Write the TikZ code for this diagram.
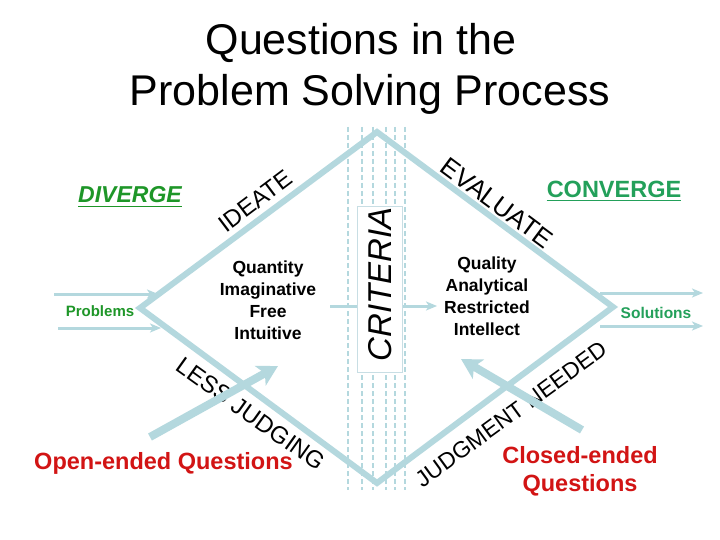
\documentclass[tikz,border=0pt]{standalone}
\usepackage{fontspec}
\setmainfont{Liberation Sans}
\usetikzlibrary{arrows.meta}
\definecolor{lb}{RGB}{180,216,222}
\definecolor{dg}{RGB}{30,150,40}
\definecolor{cg}{RGB}{35,160,90}
\definecolor{rd}{RGB}{210,20,20}
\definecolor{bx}{RGB}{200,222,228}
\newcommand{\myfs}[2]{\fontsize{#1}{#2}\selectfont}
\tikzset{
  diam/.style={draw=lb, line width=6pt, line join=miter},
  dash line/.style={draw=lb, line width=1.3pt, dash pattern=on 5pt off 3pt},
  thin arrow/.style={draw=lb, line width=3pt, -{Stealth[length=11pt,width=9pt,inset=3pt]}},
  big arrow/.style={draw=lb, line width=8pt, -{Stealth[length=20pt,width=22pt,inset=5pt]}},
  word/.style={inner sep=0pt, text=black},
  blk/.style={inner sep=0pt, align=center, text=black, font=\bfseries\myfs{17.5}{22}},
}
\begin{document}
\begin{tikzpicture}[x=1pt,y=-1pt]
\useasboundingbox[fill=white] (0,0) rectangle (720,540);

% title
\node[word, anchor=base, font=\myfs{43}{50}] (t1) at (361,55) {Questions in the};
\node[word, anchor=base, font=\myfs{43}{50}] (t2) at (370,106) {Problem Solving Process};

% criteria dashed band
\foreach \x [count=\i] in {348,362,373,386,395,405}{
  \coordinate (dt\i) at (\x,127);
  \coordinate (db\i) at (\x,490);
  \draw[dash line] (dt\i) -- (db\i);
}

% diamond
\coordinate (L) at (140,308);
\coordinate (T) at (377,132);
\coordinate (R) at (613,307);
\coordinate (B) at (377,483);
\draw[diam] (L) -- (T) -- (R) -- (B) -- cycle;

% centre arrow through criteria
\coordinate (ca) at (330,306);
\coordinate (cb) at (437,306);
\draw[thin arrow] (ca) -- (cb);

% criteria box
\node[draw=bx, fill=white, line width=0.8pt, minimum width=45pt, minimum height=166pt, inner sep=0pt] (crit) at (379.5,289) {};
\node[word, rotate=90, font=\itshape\myfs{33}{33}] (critt) at (380,284) {CRITERIA};

% problems arrows
\coordinate (p1a) at (54,294);  \coordinate (p1b) at (158,294);
\coordinate (p2a) at (58,328);  \coordinate (p2b) at (161,328);
\draw[thin arrow] (p1a) -- (p1b);
\draw[thin arrow] (p2a) -- (p2b);
\node[word, text=dg, font=\bfseries\myfs{15}{15}] (prob) at (100,311) {Problems};

% solutions arrows
\coordinate (s1a) at (600,293);  \coordinate (s1b) at (703,293);
\coordinate (s2a) at (600,326);  \coordinate (s2b) at (703,326);
\draw[thin arrow] (s1a) -- (s1b);
\draw[thin arrow] (s2a) -- (s2b);
\node[word, text=cg, font=\bfseries\myfs{15.5}{15.5}] (sol) at (656,313) {Solutions};

% diverge / converge
\node[word, anchor=base, text=dg, font=\bfseries\itshape\myfs{23}{23}] (div) at (130,203) {DIVERGE};
\draw[dg, line width=1.6pt] ([yshift=-3.5pt]div.base west) -- ([yshift=-3.5pt]div.base east);
\node[word, anchor=base, text=cg, font=\bfseries\myfs{23.5}{23.5}] (conv) at (614,197) {CONVERGE};
\draw[cg, line width=1.6pt] ([yshift=-3.5pt]conv.base west) -- ([yshift=-3.5pt]conv.base east);

% inner blocks
\node[blk] (qi) at (268,300) {Quantity\\Imaginative\\Free\\Intuitive};
\node[blk] (qa) at (487,296) {Quality\\Analytical\\Restricted\\Intellect};

% slanted words
\node[word, rotate=37, font=\myfs{24}{24}] (ideate) at (255,201) {IDEATE};
\node[word, rotate=-36.6, font=\myfs{26}{26}] (eval) at (497,203) {EVALUATE};
\node[word, rotate=-35.5, font=\myfs{24}{24}] (less) at (251,414) {LESS JUDGING};
\node[word, rotate=36, font=\myfs{23}{23}] (need) at (511,414) {JUDGMENT NEEDED};

% question labels
\node[word, text=rd, font=\bfseries\myfs{23.5}{23.5}] (open) at (163.5,463) {Open-ended Questions};
\node[word, text=rd, align=center, font=\bfseries\myfs{23.5}{28}] (closed) at (580,471) {Closed-ended\\Questions};

% big arrows
\coordinate (oa) at (150,437); \coordinate (ob) at (278,366);
\draw[big arrow] (oa) -- (ob);
\coordinate (ca2) at (582,430); \coordinate (cb2) at (461,359);
\draw[big arrow] (ca2) -- (cb2);
\end{tikzpicture}
\end{document}
